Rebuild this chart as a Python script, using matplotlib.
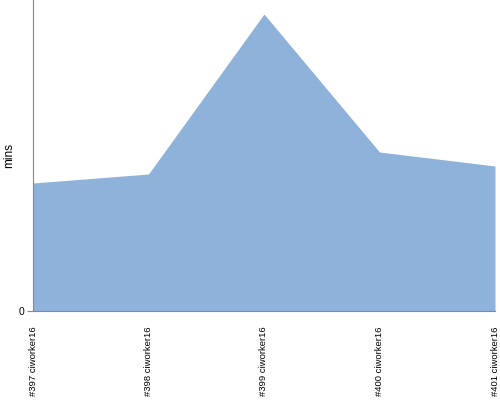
import matplotlib
matplotlib.use("Agg")
import matplotlib.pyplot as plt

plt.rcParams["font.family"] = ["Liberation Sans", "DejaVu Sans"]

categories = ["#397 ciworker16", "#398 ciworker16", "#399 ciworker16", "#400 ciworker16", "#401 ciworker16"]
values = [128, 137, 297, 159, 145]
y_max = 311

fig = plt.figure(figsize=(5, 4), dpi=100)
ax = fig.add_axes([0.066, 0.2225, 0.924, 0.7775])
x = list(range(len(categories)))
ax.fill_between(x, values, 0, color="#8fb2da", linewidth=0)
ax.set_xlim(0, len(categories) - 1)
ax.set_ylim(0, y_max)
ax.set_yticks([0])
ax.set_yticklabels(["0"], fontsize=7.5)
ax.set_xticks(x)
ax.set_xticklabels(categories, rotation=90, fontsize=6.8, va="top")
ax.tick_params(axis="x", length=0, pad=11)
ax.tick_params(axis="y", length=4, width=0.8, colors="#888888", labelcolor="black", pad=2)
ax.set_ylabel("mins", fontsize=8.5)
ax.yaxis.set_label_coords(-0.038, 0.5)
for s in ["top", "right"]:
    ax.spines[s].set_visible(False)
for s in ["left", "bottom"]:
    ax.spines[s].set_color("#888888")
    ax.spines[s].set_linewidth(0.8)
fig.savefig("out.png", dpi=100)
